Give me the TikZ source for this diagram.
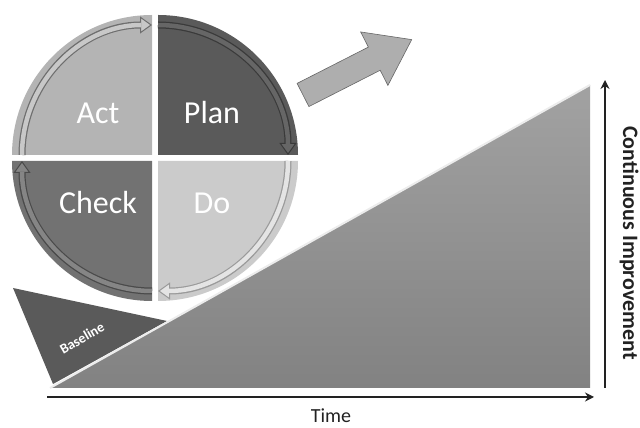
\documentclass[tikz,border=0pt]{standalone}
\usepackage{fontspec}
\setmainfont{Carlito}
\usetikzlibrary{arrows.meta}
\definecolor{actfill}{HTML}{B4B4B4}\definecolor{actband}{HTML}{C8C8C8}\definecolor{actline}{HTML}{6E6E6E}
\definecolor{planfill}{HTML}{5A5A5A}\definecolor{planband}{HTML}{666666}\definecolor{planline}{HTML}{3A3A3A}
\definecolor{dofill}{HTML}{CBCBCB}\definecolor{doband}{HTML}{E4E4E4}\definecolor{doline}{HTML}{9A9A9A}
\definecolor{checkfill}{HTML}{727272}\definecolor{checkband}{HTML}{858585}\definecolor{checkline}{HTML}{4A4A4A}
\definecolor{ramptop}{HTML}{A2A2A2}\definecolor{rampbot}{HTML}{828282}
\definecolor{basefill}{HTML}{5A5A5A}\definecolor{bigarrow}{HTML}{AEAEAE}
\definecolor{axiscol}{HTML}{222222}
\tikzset{
  quadlabel/.style={text=white,font=\fontsize{32}{32}\selectfont},
  axis/.style={line width=1.8pt,axiscol,-{Stealth[length=9pt,width=9pt]}},
  axislabel/.style={text=axiscol,inner sep=1pt,font=\fontsize{20}{20}\selectfont},
}
\newcommand{\quadband}[5]{% center, start, end, line colour, band colour
  \draw[line width=7pt,#4,-{Triangle[length=12pt,width=17pt,line width=1pt,fill=#5]}] #1 ++(#2:130) arc[start angle=#2,end angle=#3,radius=130];
  \draw[line width=4.5pt,#5,shorten >=11pt] #1 ++(#2:130) arc[start angle=#2,end angle=#3,radius=130];
}
\begin{document}
\begin{tikzpicture}[x=1pt,y=1pt]
\useasboundingbox (0,0) rectangle (640,428);
% quadrants
\fill[actfill] (152,273) -- ++(90:140) arc[start angle=90,end angle=180,radius=140] -- cycle;
\fill[planfill] (158,273) -- ++(0:140) arc[start angle=0,end angle=90,radius=140] -- cycle;
\fill[dofill] (158,267) -- ++(270:140) arc[start angle=270,end angle=360,radius=140] -- cycle;
\fill[checkfill] (152,267) -- ++(180:140) arc[start angle=180,end angle=270,radius=140] -- cycle;
\quadband{(152,273)}{180}{90}{actline}{actband}
\quadband{(158,273)}{90}{0}{planline}{planband}
\quadband{(158,267)}{0}{-90}{doline}{doband}
\quadband{(152,267)}{270}{180}{checkline}{checkband}
\node[quadlabel] (act) at (98,315) {Act};
\node[quadlabel] (plan) at (212,315) {Plan};
\node[quadlabel] (check) at (98,225) {Check};
\node[quadlabel] (do) at (212,225) {Do};
% big block arrow
\begin{scope}[shift={(303,333)},rotate=27]
\fill[bigarrow,draw=gray!80!black,line width=0.6pt] (0,-13) -- (80,-13) -- (80,-30) -- (122,0) -- (80,30) -- (80,13) -- (0,13) -- cycle;
\end{scope}
% baseline triangle
\fill[basefill] (13,140) -- (167,107) -- (53,44) -- cycle;
\node[text=white,font=\bfseries\fontsize{14}{14}\selectfont,rotate=30] (baseline) at (82,90) {Baseline};
% ramp
\shade[top color=ramptop,bottom color=rampbot] (50,40) -- (590,40) -- (590,343) -- cycle;
\draw[white!85!gray,line width=2pt] (50,40) -- (590,343);
% axes
\coordinate (t0) at (47,31);
\coordinate (t1) at (594,31);
\coordinate (v0) at (605,40);
\coordinate (v1) at (605,348);
\draw[axis] (t0) -- (t1);
\draw[axis] (v0) -- (v1);
\node[axislabel] (time) at (331,12) {Time};
\node[axislabel,font=\bfseries\fontsize{22}{22}\selectfont,rotate=-90] (ci) at (629,185) {Continuous Improvement};
\end{tikzpicture}
\end{document}
